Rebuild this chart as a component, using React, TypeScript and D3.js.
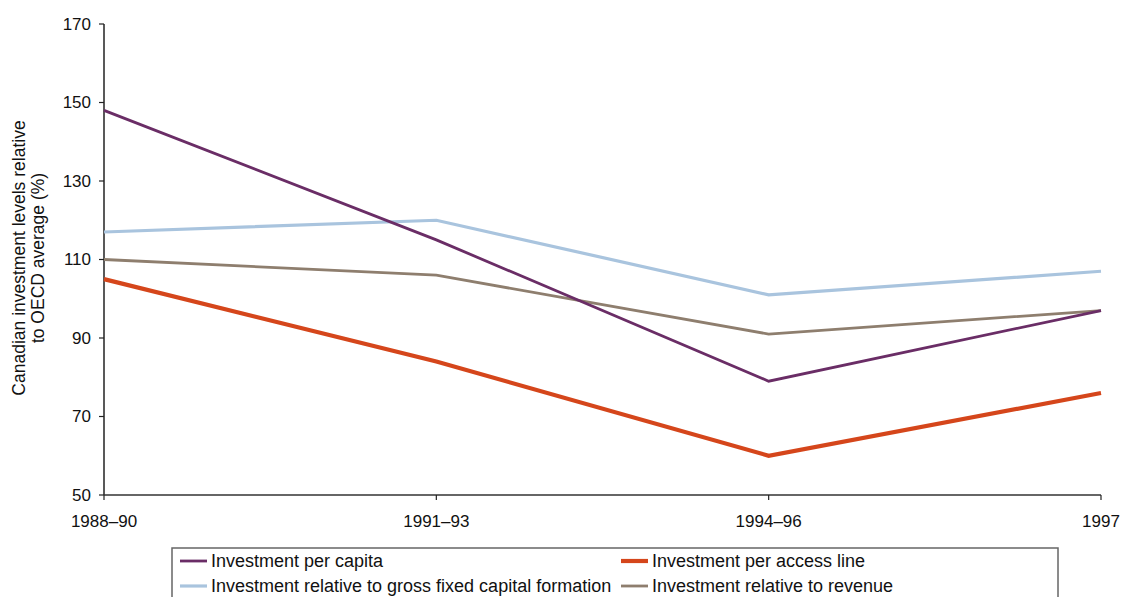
import React from "react";
import * as d3 from "d3";

const categories = ["1988–90", "1991–93", "1994–96", "1997"];
const perCapita = [148, 115, 79, 97];
const perAccessLine = [105, 84, 60, 76];
const relGFCF = [117, 120, 101, 107];
const relRevenue = [110, 106, 91, 97];
const yTicks = [50, 70, 90, 110, 130, 150, 170];

const series = [
  { name: "Investment per capita", values: perCapita, color: "#6a2d66", width: 2.8 },
  { name: "Investment per access line", values: perAccessLine, color: "#d5461b", width: 4.2 },
  { name: "Investment relative to gross fixed capital formation", values: relGFCF, color: "#a9c4de", width: 3.2 },
  { name: "Investment relative to revenue", values: relRevenue, color: "#8e7e6e", width: 2.8 },
];

const W = 1122;
const H = 597;
const left = 104;
const right = 1101;
const top = 24;
const bottom = 495;

export default function App() {
  const x = d3.scalePoint<string>().domain(categories).range([left, right]).padding(0);
  const y = d3.scaleLinear().domain([50, 170]).range([bottom, top]);
  const line = d3
    .line<number>()
    .x((_, i) => x(categories[i]) as number)
    .y((d) => y(d));
  const font = "'Liberation Sans', Arial, sans-serif";

  const legendItems = [
    { s: series[0], lx: 180, ly: 561 },
    { s: series[1], lx: 621, ly: 561 },
    { s: series[2], lx: 180, ly: 586 },
    { s: series[3], lx: 621, ly: 586 },
  ];

  return (
    <svg
      width={W}
      height={H}
      style={{ position: "absolute", left: 0, top: 0, background: "#fff" }}
      fontFamily={font}
    >
      {/* y axis */}
      <line x1={left} x2={left} y1={top} y2={bottom} stroke="#222" strokeWidth={1.5} />
      {yTicks.map((t) => (
        <g key={t}>
          <line x1={left - 5} x2={left} y1={y(t)} y2={y(t)} stroke="#222" strokeWidth={1.2} />
          <text x={left - 13} y={y(t)} dy="0.35em" textAnchor="end" fontSize={17} fill="#111">
            {t}
          </text>
        </g>
      ))}
      {/* x axis */}
      <line x1={left} x2={right} y1={bottom} y2={bottom} stroke="#333" strokeWidth={1.5} />
      {categories.map((c) => (
        <g key={c}>
          <line x1={x(c)} x2={x(c)} y1={bottom} y2={bottom + 5} stroke="#222" strokeWidth={1.2} />
          <text x={x(c)} y={521} dy="0.35em" textAnchor="middle" fontSize={17} fill="#111">
            {c}
          </text>
        </g>
      ))}
      {/* y label */}
      <g transform={`translate(29, 258) rotate(-90)`}>
        <text textAnchor="middle" fontSize={17.5} fill="#111">
          <tspan x={0} y={-4}>Canadian investment levels relative</tspan>
          <tspan x={0} y={15}>to OECD average (%)</tspan>
        </text>
      </g>
      {/* lines */}
      {[series[2], series[3], series[0], series[1]].map((s) => (
        <path
          key={s.name}
          d={line(s.values) || ""}
          fill="none"
          stroke={s.color}
          strokeWidth={s.width}
          strokeLinejoin="miter"
        />
      ))}
      {/* legend */}
      <rect x={172} y={548} width={886} height={60} fill="#fff" stroke="#666" strokeWidth={1.5} />
      {legendItems.map(({ s, lx, ly }) => (
        <g key={s.name}>
          <line x1={lx} x2={lx + 27} y1={ly} y2={ly} stroke={s.color} strokeWidth={s.width} />
          <text x={lx + 31} y={ly} dy="0.35em" fontSize={18} fill="#111">
            {s.name}
          </text>
        </g>
      ))}
    </svg>
  );
}
